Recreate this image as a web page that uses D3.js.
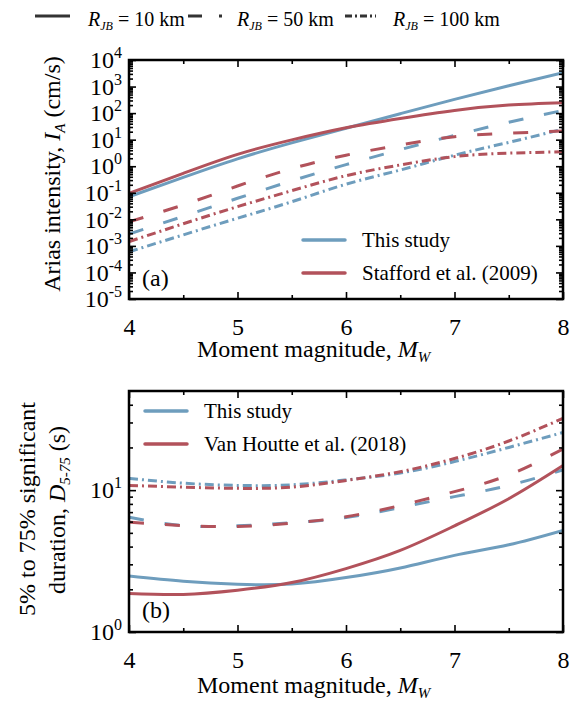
<!DOCTYPE html>
<html>
<head>
<meta charset="utf-8">
<script src="https://cdn.jsdelivr.net/npm/d3@7"></script>
<style>
  body { margin: 0; background: #fff; }
  svg { display: block; }
  text { font-family: "Liberation Serif", "Times New Roman", serif; }
  .tick line { stroke: #000; stroke-width: 1.6; }
  .frame { fill: none; stroke: #000; stroke-width: 2.5; }
  .curve { fill: none; stroke-width: 3; }
</style>
</head>
<body>
<script>
(function() {
    var w = 572,
        h = 704,
        serif = '"Liberation Serif", "Times New Roman", serif';

    // moment magnitudes where curves were read
    var mags = [4, 4.5, 5, 5.5, 6, 6.5, 7, 7.5, 8];

    // panel (a): Arias intensity (cm/s)
    var ariasThis10 = [0.071, 0.38, 1.9, 7.6, 27, 95, 330, 1070, 3300];
    var ariasStaf10 = [0.095, 0.54, 2.8, 9.8, 28, 63, 126, 200, 245];
    var ariasThis50 = [0.0028, 0.013, 0.062, 0.28, 1.15, 4.2, 14.5, 45, 126];
    var ariasStaf50 = [0.0081, 0.035, 0.18, 0.81, 2.6, 6.3, 12.9, 17.4, 21.4];
    var ariasThis100 = [0.0006, 0.0026, 0.011, 0.046, 0.21, 0.72, 2.6, 7.9, 25];
    var ariasStaf100 = [0.00145, 0.0068, 0.030, 0.12, 0.44, 1.12, 2.3, 3.1, 3.5];

    // panel (b): D5-75 (s)
    var durThis10 = [2.48, 2.28, 2.17, 2.18, 2.42, 2.83, 3.47, 4.12, 5.2];
    var durVH10 = [1.87, 1.84, 1.97, 2.23, 2.8, 3.76, 5.6, 8.7, 14.9];
    var durThis50 = [6.44, 5.63, 5.6, 5.89, 6.42, 7.54, 9.0, 10.8, 13.9];
    var durVH50 = [5.94, 5.63, 5.55, 5.85, 6.5, 7.8, 9.76, 12.8, 19.5];
    var durThis100 = [12.1, 11.2, 10.8, 10.9, 11.8, 13.2, 15.9, 20, 25.5];
    var durVH100 = [10.8, 10.5, 10.3, 10.5, 11.7, 13.5, 16.7, 22.2, 32.1];

    var xTicks = [4, 5, 6, 7, 8];
    var xMinor = [4.5, 5.5, 6.5, 7.5];
    var distLabels = ['10', '50', '100'];

    var blue = '#6e9dbd',
        red = '#b2525b';
    var dashes = ['none', '15,21', '9,4,2,4'];

    var svg = d3.select('body')
        .append('svg')
        .attr('width', w)
        .attr('height', h)
        .attr('font-family', serif);

    // top legend for distances
    var topLeg = [
        {x1: 35, x2: 70, tx: 88},
        {x1: 188, x2: 222, tx: 237},
        {x1: 345, x2: 376, tx: 393}
    ];
    var legDash = ['none', '14,17', '7,3,2,3'];
    topLeg.forEach(function(d, i) {
        svg.append('line')
            .attr('x1', d.x1).attr('x2', d.x2)
            .attr('y1', 16).attr('y2', 16)
            .attr('stroke', '#333')
            .attr('stroke-width', 3)
            .attr('stroke-dasharray', legDash[i]);
        var t = svg.append('text')
            .attr('x', d.tx).attr('y', 26)
            .attr('font-size', 20);
        t.append('tspan').attr('font-style', 'italic').text('R');
        t.append('tspan').attr('font-style', 'italic').attr('font-size', 12).attr('dy', 4).text('JB');
        t.append('tspan').attr('dy', -4).text(' = ' + distLabels[i] + ' km');
    });

    function logLabel(sel) {
        sel.each(function(d) {
            var t = d3.select(this);
            var e = Math.round(Math.log10(d));
            t.text(null);
            t.append('tspan').text('10');
            t.append('tspan').attr('font-size', 16).attr('dy', -10).text(String(e));
        });
    }

    function panel(cfg) {
        var x = d3.scaleLinear().domain([4, 8]).range([129, 563]);
        var y = d3.scaleLog().domain(cfg.yDomain).range([cfg.bottom, cfg.top]);
        var g = svg.append('g');

        g.append('clipPath')
            .attr('id', cfg.id)
            .append('rect')
            .attr('x', 129).attr('y', cfg.top)
            .attr('width', 434).attr('height', cfg.bottom - cfg.top);

        var line = d3.line()
            .x(function(d) { return x(d[0]); })
            .y(function(d) { return y(d[1]); })
            .curve(d3.curveNatural);

        cfg.series.forEach(function(s) {
            g.append('path')
                .datum(d3.zip(mags, s.values))
                .attr('class', 'curve')
                .attr('clip-path', 'url(#' + cfg.id + ')')
                .attr('stroke', s.color)
                .attr('stroke-dasharray', s.dash)
                .attr('d', line);
        });

        // axes, ticks inward on all four sides
        var bottom = g.append('g').attr('transform', 'translate(0,' + cfg.bottom + ')');
        bottom.append('g')
            .call(d3.axisBottom(x).tickValues(xTicks).tickFormat(d3.format('d'))
                .tickSizeInner(-7).tickSizeOuter(0).tickPadding(19))
            .attr('font-size', 24).attr('font-family', serif);
        bottom.append('g')
            .call(d3.axisBottom(x).tickValues(xMinor).tickSizeInner(-4).tickSizeOuter(0).tickFormat(''));
        var top = g.append('g').attr('transform', 'translate(0,' + cfg.top + ')');
        top.append('g')
            .call(d3.axisTop(x).tickValues(xTicks).tickSizeInner(-7).tickSizeOuter(0).tickFormat(''));
        top.append('g')
            .call(d3.axisTop(x).tickValues(xMinor).tickSizeInner(-4).tickSizeOuter(0).tickFormat(''));

        var left = g.append('g').attr('transform', 'translate(129,0)');
        left.append('g')
            .call(d3.axisLeft(y).tickValues(cfg.yMajor).tickSizeInner(-7).tickSizeOuter(0).tickPadding(7))
            .attr('font-size', 24).attr('font-family', serif)
            .selectAll('.tick text').call(logLabel);
        left.append('g')
            .call(d3.axisLeft(y).tickValues(cfg.yMinor).tickSizeInner(-4).tickSizeOuter(0).tickFormat(''));
        var right = g.append('g').attr('transform', 'translate(563,0)');
        right.append('g')
            .call(d3.axisRight(y).tickValues(cfg.yMajor).tickSizeInner(-7).tickSizeOuter(0).tickFormat(''));
        right.append('g')
            .call(d3.axisRight(y).tickValues(cfg.yMinor).tickSizeInner(-4).tickSizeOuter(0).tickFormat(''));
        g.selectAll('.domain').remove();
        g.selectAll('.tick text').attr('fill', '#000');

        g.append('rect')
            .attr('class', 'frame')
            .attr('x', 129).attr('y', cfg.top)
            .attr('width', 434).attr('height', cfg.bottom - cfg.top);

        // x title
        var xt = g.append('text')
            .attr('x', 197).attr('y', cfg.bottom + cfg.xTitleDy)
            .attr('font-size', 24);
        xt.append('tspan').text('Moment magnitude, ');
        xt.append('tspan').attr('font-style', 'italic').text('M');
        xt.append('tspan').attr('font-style', 'italic').attr('font-size', 15).attr('dy', 5).text('W');

        // panel letter
        g.append('text')
            .attr('x', 142).attr('y', cfg.letterY)
            .attr('font-size', 24)
            .text(cfg.letter);

        // model legend
        cfg.legend.forEach(function(d, i) {
            var ly = cfg.legY + i * 33;
            g.append('line')
                .attr('x1', cfg.legX).attr('x2', cfg.legX + 42)
                .attr('y1', ly).attr('y2', ly)
                .attr('stroke', d.color)
                .attr('stroke-width', 3.5)
                .attr('stroke-linecap', 'round');
            g.append('text')
                .attr('x', cfg.legX + 59).attr('y', ly + 7)
                .attr('font-size', 21)
                .text(d.label);
        });
        return g;
    }

    var majA = d3.range(-5, 5).map(function(e) { return Math.pow(10, e); });
    var minA = [];
    d3.range(-5, 4).forEach(function(e) {
        d3.range(2, 10).forEach(function(m) { minA.push(m * Math.pow(10, e)); });
    });

    panel({
        id: 'clipA', top: 60, bottom: 299, xTitleDy: 58,
        yDomain: [1e-5, 1e4], yMajor: majA, yMinor: minA,
        letter: '(a)', letterY: 286,
        legX: 303, legY: 240,
        legend: [{color: blue, label: 'This study'}, {color: red, label: 'Stafford et al. (2009)'}],
        series: [
            {values: ariasThis10, color: blue, dash: dashes[0]},
            {values: ariasThis50, color: blue, dash: dashes[1]},
            {values: ariasThis100, color: blue, dash: dashes[2]},
            {values: ariasStaf10, color: red, dash: dashes[0]},
            {values: ariasStaf50, color: red, dash: dashes[1]},
            {values: ariasStaf100, color: red, dash: dashes[2]}
        ]
    });

    panel({
        id: 'clipB', top: 391, bottom: 632, xTitleDy: 61,
        yDomain: [1, 50], yMajor: [1, 10], yMinor: [2, 3, 4, 5, 6, 7, 8, 9, 20, 30, 40],
        letter: '(b)', letterY: 618,
        legX: 145, legY: 411,
        legend: [{color: blue, label: 'This study'}, {color: red, label: 'Van Houtte et al. (2018)'}],
        series: [
            {values: durThis10, color: blue, dash: dashes[0]},
            {values: durThis50, color: blue, dash: dashes[1]},
            {values: durThis100, color: blue, dash: dashes[2]},
            {values: durVH10, color: red, dash: dashes[0]},
            {values: durVH50, color: red, dash: dashes[1]},
            {values: durVH100, color: red, dash: dashes[2]}
        ]
    });

    // y titles
    var ya = svg.append('text')
        .attr('transform', 'translate(60,174) rotate(-90)')
        .attr('text-anchor', 'middle')
        .attr('font-size', 24);
    ya.append('tspan').text('Arias intensity, ');
    ya.append('tspan').attr('font-style', 'italic').text('I');
    ya.append('tspan').attr('font-style', 'italic').attr('font-size', 15).attr('dy', 5).text('A');
    ya.append('tspan').attr('dy', -5).text(' (cm/s)');

    svg.append('text')
        .attr('transform', 'translate(35,509) rotate(-90)')
        .attr('text-anchor', 'middle')
        .attr('font-size', 24)
        .text('5% to 75% significant');
    var yb = svg.append('text')
        .attr('transform', 'translate(65,510) rotate(-90)')
        .attr('text-anchor', 'middle')
        .attr('font-size', 24);
    yb.append('tspan').text('duration, ');
    yb.append('tspan').attr('font-style', 'italic').text('D');
    yb.append('tspan').attr('font-style', 'italic').attr('font-size', 15).attr('dy', 5).text('5-75');
    yb.append('tspan').attr('dy', -5).text(' (s)');
})();
</script>
</body>
</html>
